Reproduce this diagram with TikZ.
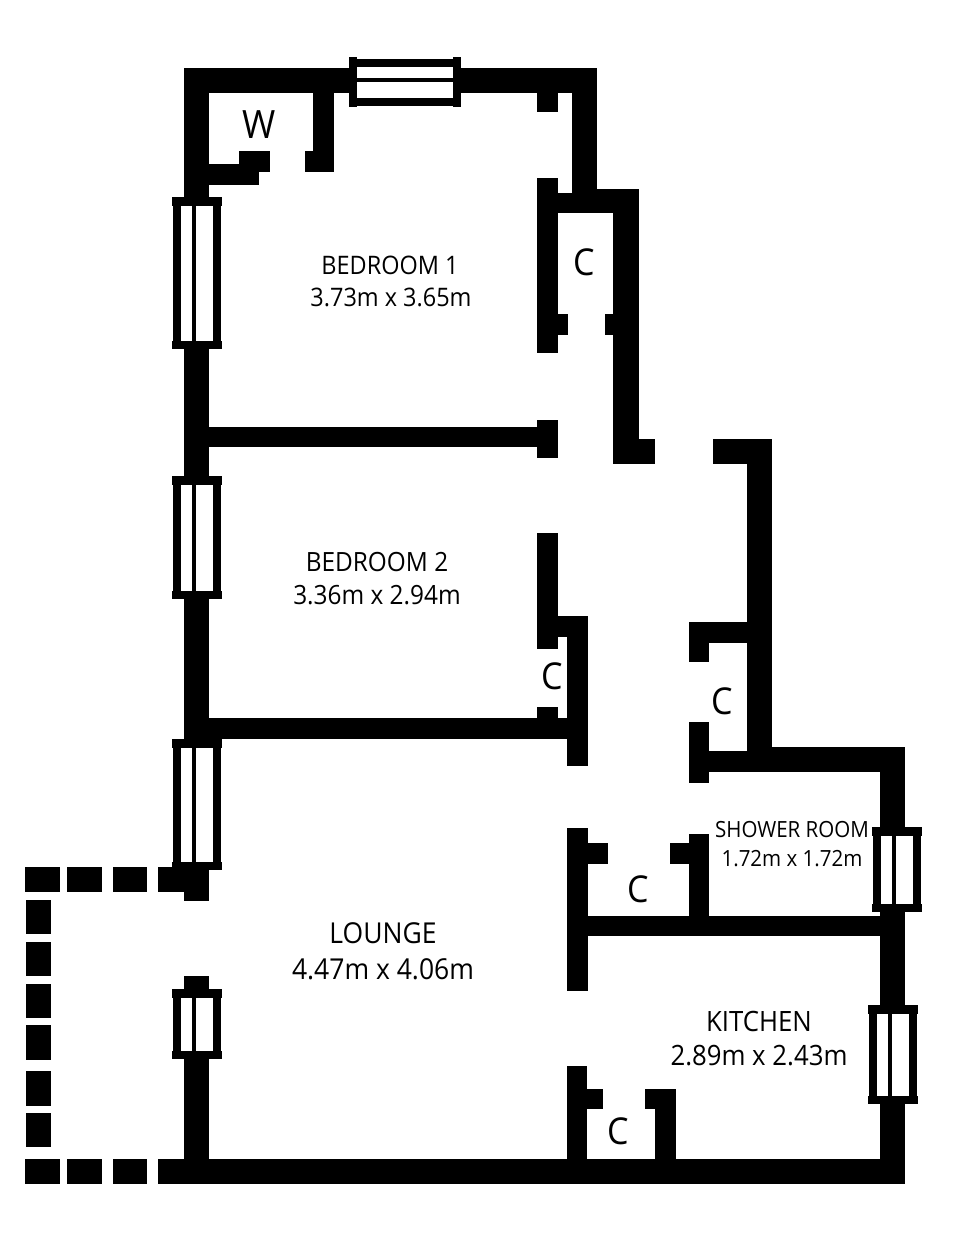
\documentclass[tikz,border=0pt]{standalone}
\usepackage{fontspec}
\setmainfont[FakeStretch=0.92]{Open Sans}
\tikzset{
  wall/.style={fill=black,draw=none},
  lab/.style={anchor=base,inner sep=0pt,outer sep=0pt,text=black}
}
\newcommand{\wl}[4]{\fill[wall] (#1,#2) rectangle (#3,#4);}
% vertical window: left x of cap, top y, bottom y
\newcommand{\vwin}[3]{%
  \fill[white] (#1+1,#2) rectangle (#1+49,#3);
  \wl{#1}{#2}{#1+50}{#2+8.5}
  \wl{#1}{#3-8.5}{#1+50}{#3}
  \wl{#1+1}{#2}{#1+9}{#3}
  \wl{#1+20}{#2}{#1+24}{#3}
  \wl{#1+41}{#2}{#1+49}{#3}}
\newcommand{\fs}[1]{\fontsize{#1}{#1}\selectfont}
\begin{document}
\begin{tikzpicture}[x=1pt,y=-1pt]
\useasboundingbox (0,0) rectangle (967,1259);
\fill[white] (0,0) rectangle (967,1259);
% outer top and top-left
\wl{184}{68}{597}{93}
\wl{184}{68}{209}{197}
\wl{209}{164}{259}{185}
\wl{239}{151}{270}{172}
\wl{313}{93}{334}{172}
\wl{305}{151}{334}{172}
% top window
\fill[white] (349,59) rectangle (461,106);
\wl{349}{57}{357}{107}
\wl{453}{57}{461}{107}
\wl{349}{59}{461}{67}
\wl{349}{78}{461}{82}
\wl{349}{98}{461}{106}
% top right, closet C
\wl{537}{93}{558}{112}
\wl{572}{68}{597}{213}
\wl{572}{189}{639}{213}
\wl{537}{193}{572}{213}
\wl{537}{178}{558}{353}
\wl{558}{314}{568}{335}
\wl{613}{189}{639}{464}
\wl{605}{314}{613}{335}
\wl{613}{439}{655}{464}
% hall right wall
\wl{713}{439}{772}{464}
\wl{747}{439}{772}{772}
\wl{689}{622}{747}{643}
\wl{689}{622}{709}{662}
\wl{689}{751}{747}{772}
\wl{689}{722}{709}{783}
\wl{747}{747}{905}{772}
\wl{880}{747}{905}{827}
% left wall
\wl{184}{349}{209}{477}
\wl{184}{599}{209}{739}
\wl{209}{427}{537}{447}
\wl{537}{420}{558}{458}
\wl{209}{718}{567}{739}
% bedroom 2 closet
\wl{537}{533}{558}{649}
\wl{537}{616}{588}{637}
\wl{567}{616}{588}{766}
\wl{537}{707}{558}{718}
% lounge left
\wl{184}{870}{209}{901}
\wl{184}{976}{209}{990}
\wl{184}{1059}{209}{1184}
\wl{158}{867}{184}{892}
\wl{25}{867}{60}{892}
\wl{67}{867}{102}{892}
\wl{113}{867}{147}{892}
\wl{158}{1159}{905}{1184}
\wl{25}{1159}{60}{1184}
\wl{67}{1159}{102}{1184}
\wl{113}{1159}{147}{1184}
\wl{26}{900}{51}{934}
\wl{26}{942}{51}{976}
\wl{26}{984}{51}{1018}
\wl{26}{1025}{51}{1060}
\wl{26}{1071}{51}{1106}
\wl{26}{1113}{51}{1147}
% right wall
\wl{880}{912}{905}{1005}
\wl{880}{1104}{905}{1184}
% shower, kitchen
\wl{567}{916}{880}{936}
\wl{567}{828}{588}{991}
\wl{588}{843}{608}{864}
\wl{689}{834}{709}{916}
\wl{670}{843}{689}{864}
\wl{567}{1066}{587}{1159}
\wl{587}{1089}{603}{1109}
\wl{655}{1089}{676}{1159}
\wl{645}{1089}{655}{1109}
% windows
\vwin{172}{197}{349}
\vwin{172}{476}{599}
\vwin{172}{739}{870}
\vwin{172}{989}{1059}
\vwin{872}{827}{912}
\vwin{868}{1005}{1104}
% labels
\node[lab,font=\fs{39}] (w) at (259,138) {W};
\node[lab,font=\fs{37}] (c1) at (584,275) {C};
\node[lab,font=\fs{37}] (c2) at (552,689) {C};
\node[lab,font=\fs{37}] (c3) at (722,714) {C};
\node[lab,font=\fs{37}] (c4) at (638,902) {C};
\node[lab,font=\fs{37}] (c5) at (618,1144) {C};
\node[lab,font=\fs{25.5}] (b1a) at (390,274) {BEDROOM 1};
\node[lab,font=\fs{25.5}] (b1b) at (391,306) {3.73m x 3.65m};
\node[lab,font=\fs{26.5}] (b2a) at (377,571) {BEDROOM 2};
\node[lab,font=\fs{26.5}] (b2b) at (377,604) {3.36m x 2.94m};
\node[lab,font=\fs{28.8}] (la) at (383,943) {LOUNGE};
\node[lab,font=\fs{28.8}] (lb) at (383,979) {4.47m x 4.06m};
\node[lab,font=\fs{22.3}] (sa) at (792,837) {SHOWER ROOM};
\node[lab,font=\fs{22.3}] (sb) at (792,866) {1.72m x 1.72m};
\node[lab,font=\fs{28}] (ka) at (759,1031) {KITCHEN};
\node[lab,font=\fs{28}] (kb) at (759,1065) {2.89m x 2.43m};
\end{tikzpicture}
\end{document}
